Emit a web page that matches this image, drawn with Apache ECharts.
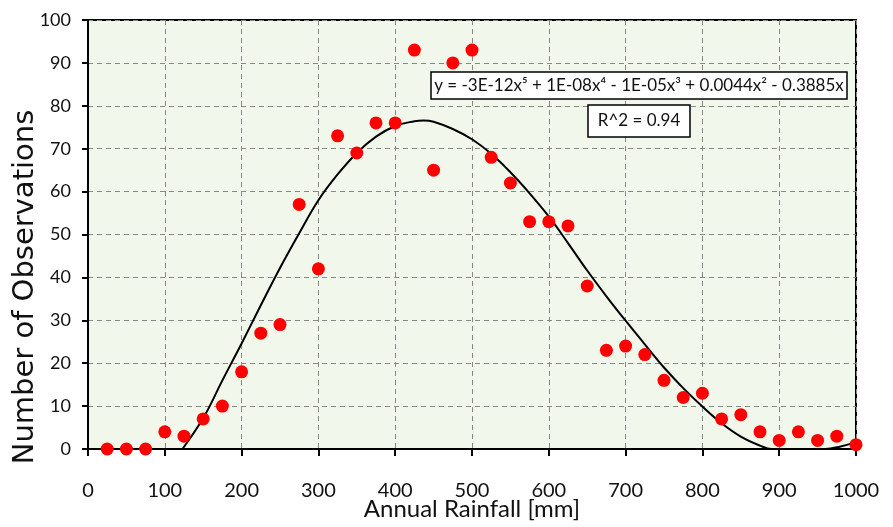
<!DOCTYPE html>
<html>
<head>
<meta charset="utf-8">
<script src="https://cdn.jsdelivr.net/npm/echarts@6/dist/echarts.min.js"></script>
<style>html,body{margin:0;padding:0;background:#fff}#c{width:893px;height:527px}</style>
</head>
<body>
<div id="c"></div>
<script>
const rainfall = [25,50,75,100,125,150,175,200,225,250,275,300,325,350,375,400,425,450,475,500,525,550,575,600,625,650,675,700,725,750,775,800,825,850,875,900,925,950,975,1000];
const observations = [0,0,0,4,3,7,10,18,27,29,57,42,73,69,76,76,93,65,90,93,68,62,53,53,52,38,23,24,22,16,12,13,7,8,4,2,4,2,3,1];
const trendX = [123,150,175,200,225,250,275,300,325,350,375,400,425,437,450,475,500,525,550,575,600,625,650,675,700,725,750,775,800,825,850,875,890,925,960,980,1000];
const trendY = [0,7.2,16,24.6,33.5,42.2,50.3,58,64,69,72.8,75.3,76.4,76.6,76.3,74.6,72.2,68.8,64.5,59.6,54.2,48,41.6,35.6,29.9,24.4,19,14.2,9.9,6,2.9,0.8,0,0,0,0.6,1.6];
const xTicks = [0,100,200,300,400,500,600,700,800,900,1000];
const yTicks = [0,10,20,30,40,50,60,70,80,90,100];
const xTitle = 'Annual Rainfall [mm]';
const yTitle = 'Number of Observations';
const equationText = 'y = -3E-12x\u2075 + 1E-08x\u2074 - 1E-05x\u00B3 + 0.0044x\u00B2 - 0.3885x';
const r2Text = 'R^2 = 0.94';

const FONT = 'Lato';
const chart = echarts.init(document.getElementById('c'), null, {renderer:'canvas'});
chart.setOption({
  animation: false,
  backgroundColor: '#ffffff',
  textStyle: {fontFamily: FONT},
  grid: {left: 88, right: 37, top: 20, bottom: 78, outerBoundsMode: 'none', containLabel: false, show: true, backgroundColor: '#f2f7ec', borderColor: '#000', borderWidth: 2},
  xAxis: {
    type: 'value', min: xTicks[0], max: xTicks[xTicks.length-1], interval: 100,
    name: xTitle, nameLocation: 'middle', nameGap: 48, nameMoveOverlap: false,
    nameTextStyle: {fontSize: 24, color: '#111', fontFamily: FONT},
    axisLine: {show: true, lineStyle: {color: '#000', width: 2}},
    axisTick: {show: true, length: 7, lineStyle: {color: '#000', width: 2}},
    axisLabel: {fontSize: 20, color: '#111', margin: 32, fontFamily: FONT, formatter: v => String(v)},
    splitLine: {show: true, lineStyle: {color: '#888', type: [5,4], width: 1}}
  },
  yAxis: {
    type: 'value', min: yTicks[0], max: yTicks[yTicks.length-1], interval: 10,
    axisLine: {show: true, lineStyle: {color: '#000', width: 2}},
    axisTick: {show: true, length: 6, lineStyle: {color: '#000', width: 2}},
    axisLabel: {fontSize: 18, color: '#111', margin: 17, fontFamily: FONT, formatter: v => String(v)},
    splitLine: {show: true, lineStyle: {color: '#888', type: [5,4], width: 1}}
  },
  series: [
    {
      type: 'line', data: trendX.map((x,i)=>[x,trendY[i]]), smooth: 0.4, showSymbol: false,
      lineStyle: {color: '#000', width: 2}, clip: true, z: 2
    },
    {
      type: 'scatter', data: rainfall.map((x,i)=>[x,observations[i]]), symbolSize: 13,
      itemStyle: {color: '#ff0000', opacity: 1}, clip: false, z: 3
    }
  ],
  graphic: [
    {type: 'text', x: 25, y: 287, rotation: Math.PI/2, style: {text: yTitle, fontSize: 29, fontFamily: 'DejaVu Sans', fill: '#111', align: 'center', verticalAlign: 'middle'}, z: 11},
    {type: 'rect', shape: {x: 431, y: 72, width: 416, height: 27}, style: {fill: '#fff', stroke: '#000', lineWidth: 1.5}, z: 10},
    {type: 'text', x: 639, y: 86, style: {text: equationText, fontSize: 17, fontFamily: FONT, fill: '#111', align: 'center', verticalAlign: 'middle'}, z: 11},
    {type: 'rect', shape: {x: 588, y: 105, width: 102, height: 32}, style: {fill: '#fff', stroke: '#000', lineWidth: 1.5}, z: 10},
    {type: 'text', x: 639, y: 121, style: {text: r2Text, fontSize: 17, fontFamily: FONT, fill: '#111', align: 'center', verticalAlign: 'middle'}, z: 11}
  ]
});
</script>
</body>
</html>
